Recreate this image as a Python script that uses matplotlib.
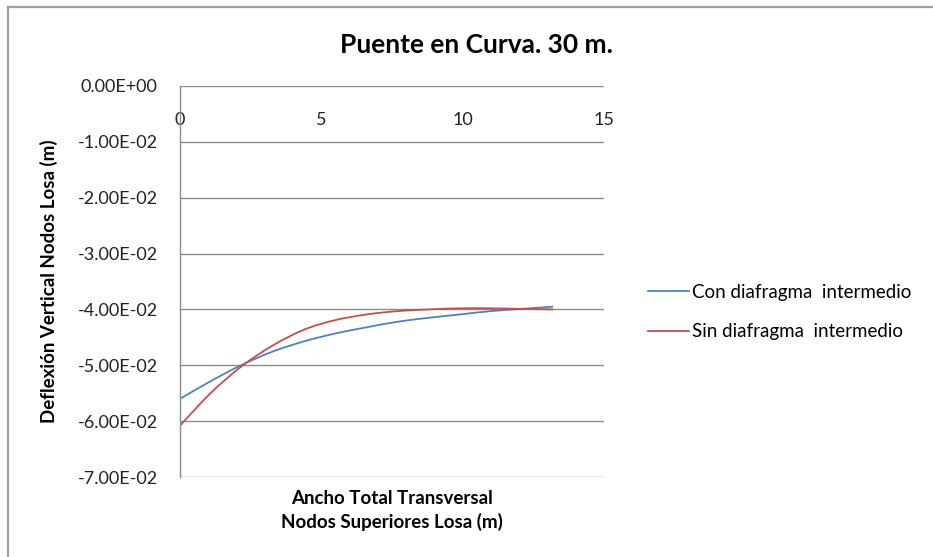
import matplotlib
matplotlib.use("Agg")
import matplotlib.pyplot as plt
from matplotlib.lines import Line2D
from matplotlib.path import Path
from matplotlib.patches import PathPatch

# nodes across the slab width (m)
x_nodes = [0.0, 1.1, 2.2, 3.3, 4.4, 5.5, 6.6, 7.7, 8.8, 9.9, 11.0, 12.1, 13.2]
con_diafragma = [-0.0560, -0.0528, -0.0499, -0.0475, -0.0457, -0.0443, -0.0432,
                 -0.0422, -0.0415, -0.0409, -0.0403, -0.0399, -0.0395]
sin_diafragma = [-0.0608, -0.0549, -0.0501, -0.0464, -0.0436, -0.0419, -0.0409,
                 -0.0403, -0.0400, -0.0398, -0.0398, -0.0399, -0.0400]
series_names = ["Con diafragma  intermedio", "Sin diafragma  intermedio"]
series_colors = ["#4F81BD", "#C0504D"]

x_ticks = [0, 5, 10, 15]
y_ticks = [0.0, -0.01, -0.02, -0.03, -0.04, -0.05, -0.06, -0.07]


def smooth_path(xs, ys):
    # Excel-style "smoothed line": cubic Bezier through the points
    pts = list(zip(xs, ys))
    n = len(pts)
    verts = [pts[0]]
    codes = [Path.MOVETO]
    for i in range(n - 1):
        p0 = pts[max(i - 1, 0)]
        p1 = pts[i]
        p2 = pts[i + 1]
        p3 = pts[min(i + 2, n - 1)]
        c1 = (p1[0] + (p2[0] - p0[0]) / 6, p1[1] + (p2[1] - p0[1]) / 6)
        c2 = (p2[0] - (p3[0] - p1[0]) / 6, p2[1] - (p3[1] - p1[1]) / 6)
        verts += [c1, c2, p2]
        codes += [Path.CURVE4] * 3
    return Path(verts, codes)


plt.rcParams["font.family"] = ["Lato", "DejaVu Sans"]

fig = plt.figure(figsize=(9.33, 5.57), dpi=100)
ax = fig.add_axes([180 / 933, 1 - 477 / 557, 424 / 933, 391 / 557])

grid_c = "#8c8c8c"
handles = []
for ys, name, col in zip([con_diafragma, sin_diafragma], series_names, series_colors):
    ax.add_patch(PathPatch(smooth_path(x_nodes, ys), facecolor="none",
                           edgecolor=col, lw=1.3))
    handles.append(Line2D([], [], color=col, lw=1.3, label=name))

ax.set_xlim(0, 15)
ax.set_ylim(-0.07, 0.0)
ax.set_xticks(x_ticks)
ax.set_yticks(y_ticks)
ax.set_yticklabels([f"{v:.2E}".replace("-0.00E", "0.00E") for v in y_ticks])
ax.grid(axis="y", color=grid_c, lw=1.0)
ax.set_axisbelow(True)

for side in ("top", "right", "bottom"):
    ax.spines[side].set_visible(False)
ax.spines["left"].set_color(grid_c)
ax.spines["left"].set_linewidth(1.0)

# x axis crosses at y=0 (top), labels drawn just under it
ax.tick_params(axis="x", bottom=False, labelbottom=False, top=True, labeltop=True,
               length=0, pad=-30, labelsize=13, labelcolor="#222222")
ax.tick_params(axis="y", length=0, pad=16, labelsize=13, labelcolor="#222222")

ax.xaxis.set_label_position("bottom")
ax.set_xlabel("Ancho Total Transversal\nNodos Superiores Losa (m)", fontsize=13.5,
              fontweight="bold", labelpad=9, linespacing=1.4)
ax.set_ylabel("Deflexión Vertical Nodos Losa (m)", fontsize=13.5, fontweight="bold",
              labelpad=14)

fig.suptitle("Puente en Curva. 30 m.", x=476 / 933, y=1 - 33 / 557, fontsize=19,
             fontweight="bold")

ax.legend(handles=handles, loc="center left", bbox_to_anchor=(648 / 933, 1 - 312 / 557),
          bbox_transform=fig.transFigure, frameon=False, fontsize=13.5,
          borderpad=0, borderaxespad=0,
          handlelength=2.2, handletextpad=0.15, labelspacing=1.2)

# outer chart frame
fig.add_artist(Line2D([8 / 933, 8 / 933], [0, 1 - 7 / 557], color="#a0a0a0", lw=1.6))
fig.add_artist(Line2D([8 / 933, 1], [1 - 7 / 557, 1 - 7 / 557], color="#a0a0a0", lw=1.6))

fig.savefig("out.png", dpi=100)
